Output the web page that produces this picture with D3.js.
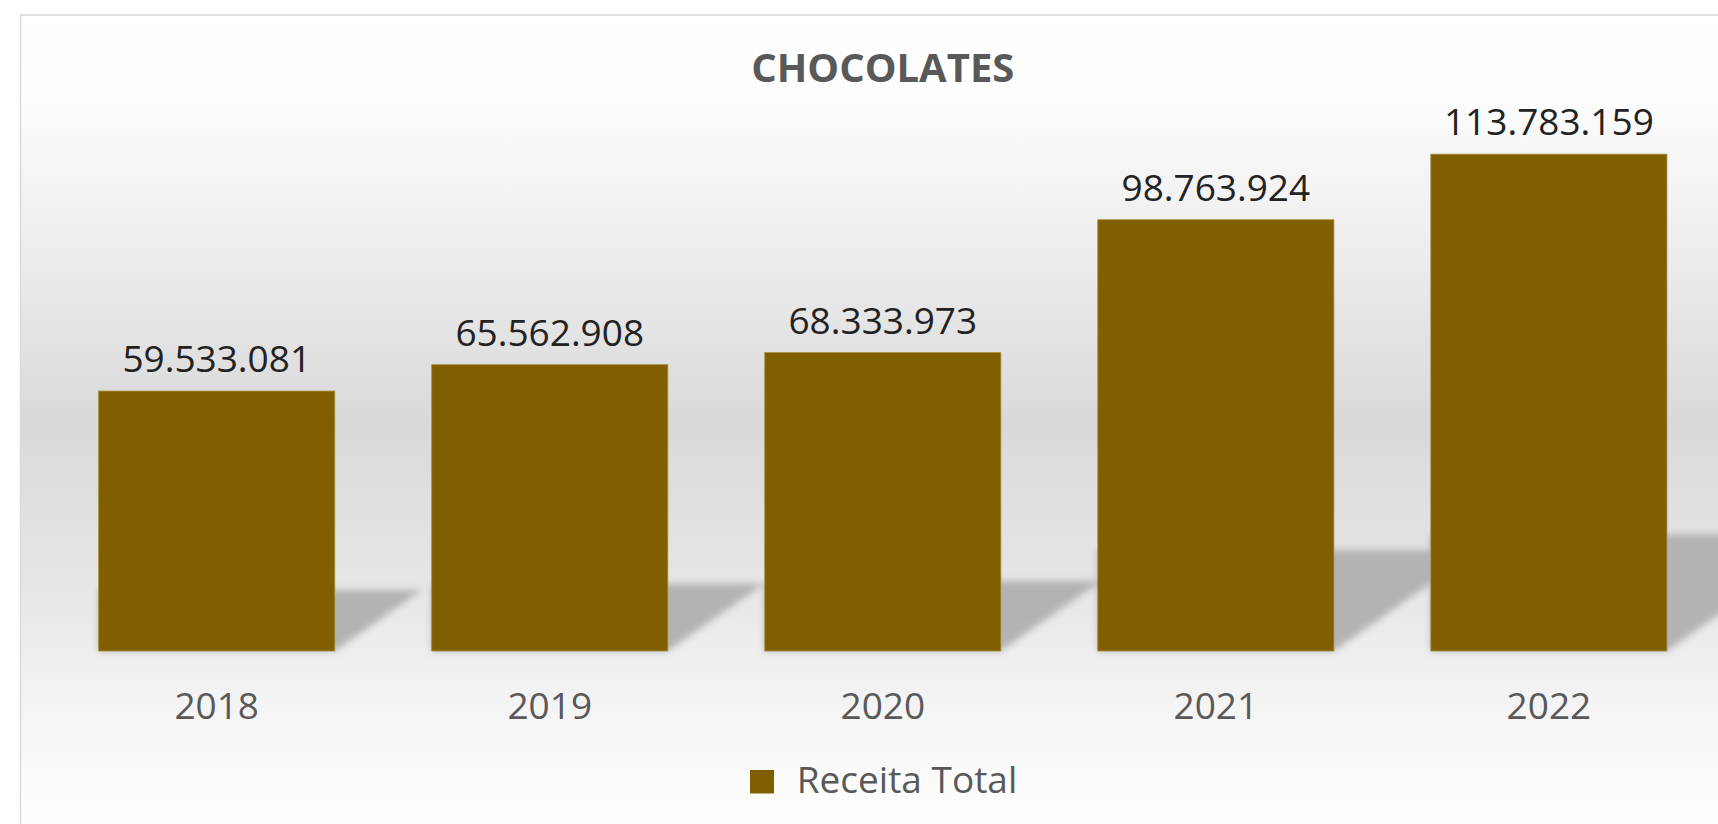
<!DOCTYPE html>
<html>
<head>
<meta charset="utf-8">
<script src="https://cdn.jsdelivr.net/npm/d3@7/dist/d3.min.js"></script>
<style>
  html, body { margin: 0; padding: 0; background: #ffffff; overflow: hidden; }
  svg { display: block; }
</style>
</head>
<body>
<script>
// ---- Data ----
const years = ["2018", "2019", "2020", "2021", "2022"];
const receitaTotal = [59533081, 65562908, 68333973, 98763924, 113783159];
const seriesName = "Receita Total";
const chartTitle = "CHOCOLATES";

// ---- Layout ----
const W = 1718, H = 824;
const barColor = "#7f5f00";
const fontFamily = "'Open Sans', 'Noto Sans', sans-serif";

const svg = d3.select("body").append("svg")
  .attr("width", W).attr("height", H);

const defs = svg.append("defs");
const grad = defs.append("linearGradient")
  .attr("id", "bg").attr("gradientUnits", "userSpaceOnUse")
  .attr("x1", 0).attr("y1", 15).attr("x2", 0).attr("y2", 830);
[[0, "#ffffff"], [0.1, "#fdfdfd"], [0.3, "#ececec"], [0.5, "#d9d9d9"], [0.7, "#e6e6e6"], [0.88, "#f7f7f7"], [1, "#ffffff"]]
  .forEach(([o, c]) => grad.append("stop").attr("offset", o).attr("stop-color", c));

const blur = defs.append("filter").attr("id", "shadowBlur")
  .attr("x", "-20%").attr("y", "-20%").attr("width", "140%").attr("height", "140%");
blur.append("feGaussianBlur").attr("stdDeviation", 3.5);

// chart area
svg.append("rect")
  .attr("x", 20.5).attr("y", 15).attr("width", 1780).attr("height", 900)
  .attr("fill", "url(#bg)").attr("stroke", "#d9d9d9").attr("stroke-width", 1.5);

// scales
const x = d3.scaleBand().domain(years)
  .range([50.2, 1715.4]).paddingInner(0.291).paddingOuter(0.1455);
const y = d3.scaleLinear().domain([0, 120e6]).range([651, 127]);

const data = years.map((yr, i) => ({ year: yr, value: receitaTotal[i] }));

// shadows
const shadowG = svg.append("g").attr("filter", "url(#shadowBlur)");
shadowG.selectAll("path").data(data).join("path")
  .attr("fill", "#b3b3b3")
  .attr("d", d => {
    const xl = x(d.year), xr = x(d.year) + x.bandwidth();
    const b = y(0);
    const hS = (y(0) - y(d.value)) * 0.235;
    const top = b - hS;
    const dx = hS / 0.7;
    return `M${xl},${b}L${xl},${top}L${xr + dx},${top}L${xr},${b}Z`;
  });

// bars
svg.append("g").selectAll("rect").data(data).join("rect")
  .attr("x", d => x(d.year))
  .attr("y", d => y(d.value))
  .attr("width", x.bandwidth())
  .attr("height", d => y(0) - y(d.value))
  .attr("fill", barColor)
  .attr("stroke", "#a88d3e").attr("stroke-width", 0.8);

// value labels
const fmt = v => d3.format(",")(v).replace(/,/g, ".");
svg.append("g").selectAll("text").data(data).join("text")
  .attr("x", d => x(d.year) + x.bandwidth() / 2)
  .attr("y", d => y(d.value) - 19)
  .attr("text-anchor", "middle")
  .attr("font-family", fontFamily)
  .attr("font-size", 37)
  .attr("fill", "#222222")
  .text(d => fmt(d.value));

// x axis (labels only)
const xAxis = d3.axisBottom(x).tickSize(0).tickPadding(0);
const gx = svg.append("g").attr("transform", `translate(0,${y(0)})`).call(xAxis);
gx.select(".domain").remove();
gx.selectAll("text")
  .attr("y", 68).attr("dy", 0)
  .attr("font-family", fontFamily)
  .attr("font-size", 37)
  .attr("fill", "#595959");

// title
svg.append("text")
  .attr("x", x("2020") + x.bandwidth() / 2).attr("y", 81.7)
  .attr("text-anchor", "middle")
  .attr("font-family", fontFamily)
  .attr("font-weight", "bold")
  .attr("font-size", 40)
  .attr("fill", "#595959")
  .text(chartTitle);

// legend
const legend = svg.append("g");
legend.append("rect")
  .attr("x", 750).attr("y", 770).attr("width", 24).attr("height", 23.5)
  .attr("fill", barColor);
legend.append("text")
  .attr("x", 796.7).attr("y", 793.3)
  .attr("font-family", fontFamily)
  .attr("font-size", 37)
  .attr("fill", "#595959")
  .text(seriesName);
</script>
</body>
</html>
